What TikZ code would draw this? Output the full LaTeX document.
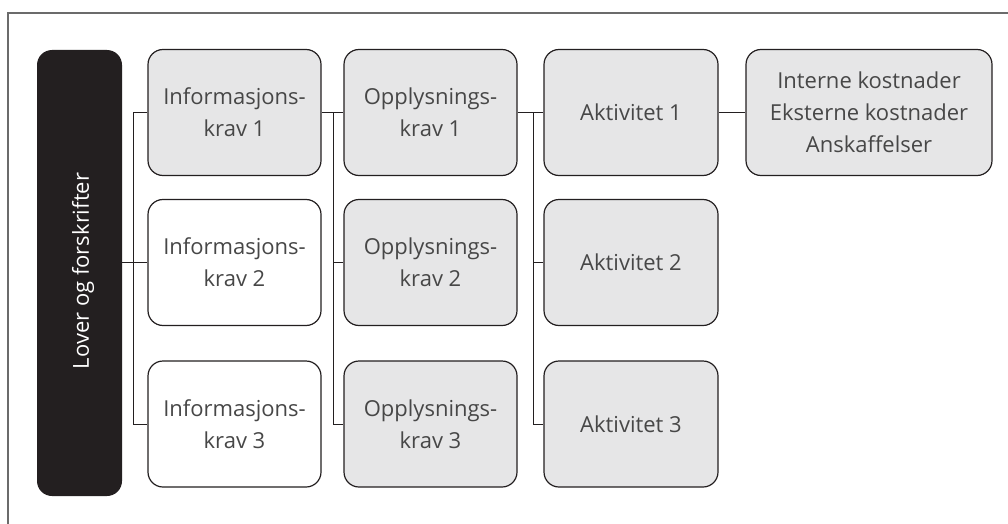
\documentclass[tikz,border=0pt]{standalone}
\usepackage{fontspec}
\setmainfont{Open Sans}
\definecolor{boxgray}{HTML}{E6E6E7}
\definecolor{barblack}{HTML}{231F20}
\definecolor{txt}{HTML}{474747}
\definecolor{framegray}{HTML}{6B6B6B}
\begin{document}
\begin{tikzpicture}[x=1pt,y=-1pt,
  box/.style={draw=barblack, line width=1.2pt, rounded corners=15pt, fill=boxgray,
    minimum width=173pt, minimum height=126pt, inner sep=0pt, align=center,
    text=txt, font=\fontsize{22}{32}\selectfont},
  whitebox/.style={box, fill=white},
  conn/.style={draw=barblack, line width=1pt},
  frameline/.style={draw=framegray, line width=2pt}]
\useasboundingbox (0,0) rectangle (1008,524);
\draw[frameline] (8,524) -- (8,13) -- (1008,13);
% bar
\node[fill=barblack, rounded corners=15pt, minimum width=85pt, minimum height=446pt, inner sep=0pt] (bar) at (79.5,273) {};
\node[rotate=90, text=white, font=\fontsize{22}{32}\selectfont] (bartext) at (83,271) {Lover og forskrifter};
% column 1
\node[box] (i1) at (234.5,112.5) {Informasjons-\\krav 1};
\node[whitebox] (i2) at (234.5,262.5) {Informasjons-\\krav 2};
\node[whitebox] (i3) at (234.5,424) {Informasjons-\\krav 3};
% column 2
\node[box] (o1) at (430.5,112.5) {Opplysnings-\\krav 1};
\node[box] (o2) at (430.5,262.5) {Opplysnings-\\krav 2};
\node[box] (o3) at (430.5,424) {Opplysnings-\\krav 3};
% column 3
\node[box, minimum width=174pt] (a1) at (631,112.5) {Aktivitet 1};
\node[box, minimum width=174pt] (a2) at (631,262.5) {Aktivitet 2};
\node[box, minimum width=174pt] (a3) at (631,424) {Aktivitet 3};
% column 4
\node[box, minimum width=246pt] (k) at (869,112.5) {Interne kostnader\\Eksterne kostnader\\Anskaffelser};
% junction coordinates
\coordinate (j1) at (133,0);
\coordinate (j2) at (333,0);
\coordinate (j3) at (533,0);
% connectors
\draw[conn] (bar.east |- i2.west) -- (i2.west);
\draw[conn] (i1.west) -- (j1 |- i1.west) -- (j1 |- i3.west) -- (i3.west);
\draw[conn] (i1.east) -- (o1.west);
\draw[conn] (j2 |- o1.west) -- (j2 |- o3.west) -- (o3.west);
\draw[conn] (j2 |- o2.west) -- (o2.west);
\draw[conn] (o1.east) -- (a1.west);
\draw[conn] (j3 |- a1.west) -- (j3 |- a3.west) -- (a3.west);
\draw[conn] (j3 |- a2.west) -- (a2.west);
\draw[conn] (a1.east) -- (k.west);
\end{tikzpicture}
\end{document}
